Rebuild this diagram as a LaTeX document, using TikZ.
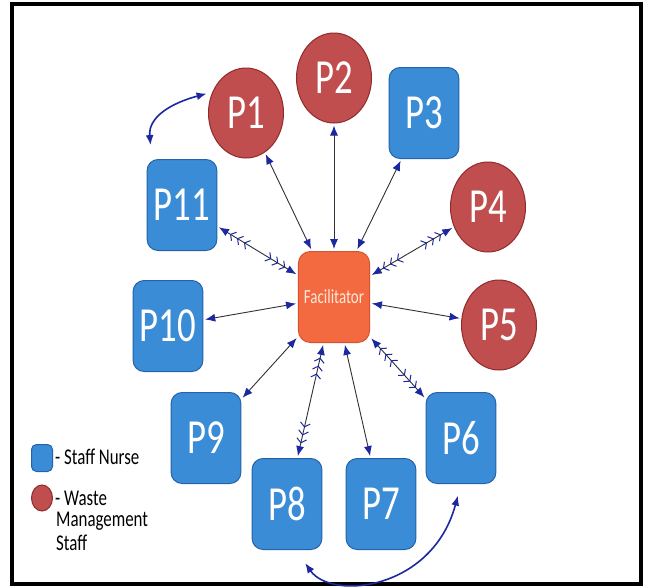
\documentclass[tikz,border=0pt]{standalone}
\usepackage{fontspec}
\setmainfont{Carlito}
\usetikzlibrary{arrows.meta,shapes.geometric}
\definecolor{nurseblue}{RGB}{58,140,215}
\definecolor{nurseedge}{RGB}{38,98,168}
\definecolor{wastered}{RGB}{192,78,78}
\definecolor{wasteedge}{RGB}{145,42,42}
\definecolor{hubfill}{RGB}{243,106,64}
\definecolor{hubedge}{RGB}{212,84,48}
\definecolor{hubtext}{RGB}{252,232,218}
\definecolor{linkgray}{RGB}{48,48,58}
\definecolor{arrowblue}{RGB}{28,40,160}
\begin{document}
\begin{tikzpicture}[x=1pt,y=-1pt,
  ah/.tip={Latex[length=10pt,width=8pt,color=arrowblue,sep=2pt]},
  fb/.tip={Straight Barb[length=4pt,width=10pt,line width=1pt,color=arrowblue,sep=3pt]},
  nurse node/.style={rectangle,rounded corners=11pt,fill=nurseblue,draw=nurseedge,
    line width=1pt,minimum width=93pt,minimum height=91pt,xscale=0.75,
    text=white,font=\fontsize{49}{49}\selectfont},
  waste node/.style={ellipse,fill=wastered,draw=wasteedge,line width=1pt,
    minimum width=100pt,minimum height=90pt,xscale=0.75,
    text=white,font=\fontsize{49}{49}\selectfont},
  hub node/.style={rectangle,rounded corners=12pt,fill=hubfill,draw=hubedge,
    line width=1pt,minimum width=95pt,minimum height=91pt,xscale=0.75,
    text=hubtext,font=\fontsize{20}{20}\selectfont},
  legend text/.style={xscale=0.75,inner sep=0pt,align=left,
    font=\fontsize{22.5}{24}\selectfont},
  link/.style={draw=linkgray,line width=0.9pt,arrows={ah[]-ah[]}},
  feather/.style={arrows={ah[] fb[] fb[] fb[]-fb[] fb[] fb[] ah[]}},
  bow/.style={draw=arrowblue,line width=1.6pt,arrows={ah[]-ah[]}}]

  \useasboundingbox (0,0) rectangle (648,587);
  \fill[white] (0,0) rectangle (648,587);
  \draw[line width=3.5pt] (12,4) rectangle (641,584);

  \node[hub node] (hub) at (334,297) {Facilitator};

  \node[waste node] (p1) at (246,113) {P1};
  \node[waste node] (p2) at (334,78) {P2};
  \node[nurse node] (p3) at (424,113) {P3};
  \node[waste node] (p4) at (488,207) {P4};
  \node[waste node] (p5) at (499,325) {P5};
  \node[nurse node] (p6) at (461,438) {P6};
  \node[nurse node] (p7) at (381,504) {P7};
  \node[nurse node] (p8) at (287,504) {P8};
  \node[nurse node] (p9) at (206,438) {P9};
  \node[nurse node] (p10) at (168,326) {P10};
  \node[nurse node] (p11) at (182,205) {P11};

  % legend
  \node[nurse node,minimum width=28pt,minimum height=27pt,rounded corners=5pt] (lgnurse) at (42,458) {};
  \node[waste node,minimum width=28pt,minimum height=26pt] (lgwaste) at (42,498) {};
  \node[legend text,anchor=west] (lgn) at (55,457) {- Staff Nurse};
  \node[legend text,anchor=west] (lgw) at (55,498) {- Waste};
  \node[legend text,anchor=north west] (lgm) at (56,512) {Management\\Staff};

  \path[link] (hub) edge (p1) edge (p2) edge (p3) edge (p5)
    edge (p7) edge (p9) edge (p10);
  \path[link,feather] (hub) edge (p4) edge (p6) edge (p8) edge (p11);

  \draw[bow,shorten <=12pt,shorten >=4pt] ([xshift=5pt]p11.north west)
    to[out=95,in=195,looseness=1.2] (p1.155);
  \draw[bow,shorten <=14pt,shorten >=10pt] ([xshift=9pt]p8.south)
    to[out=-55,in=-105,out distance=62pt,in distance=110pt] (p6.south);
\end{tikzpicture}
\end{document}
